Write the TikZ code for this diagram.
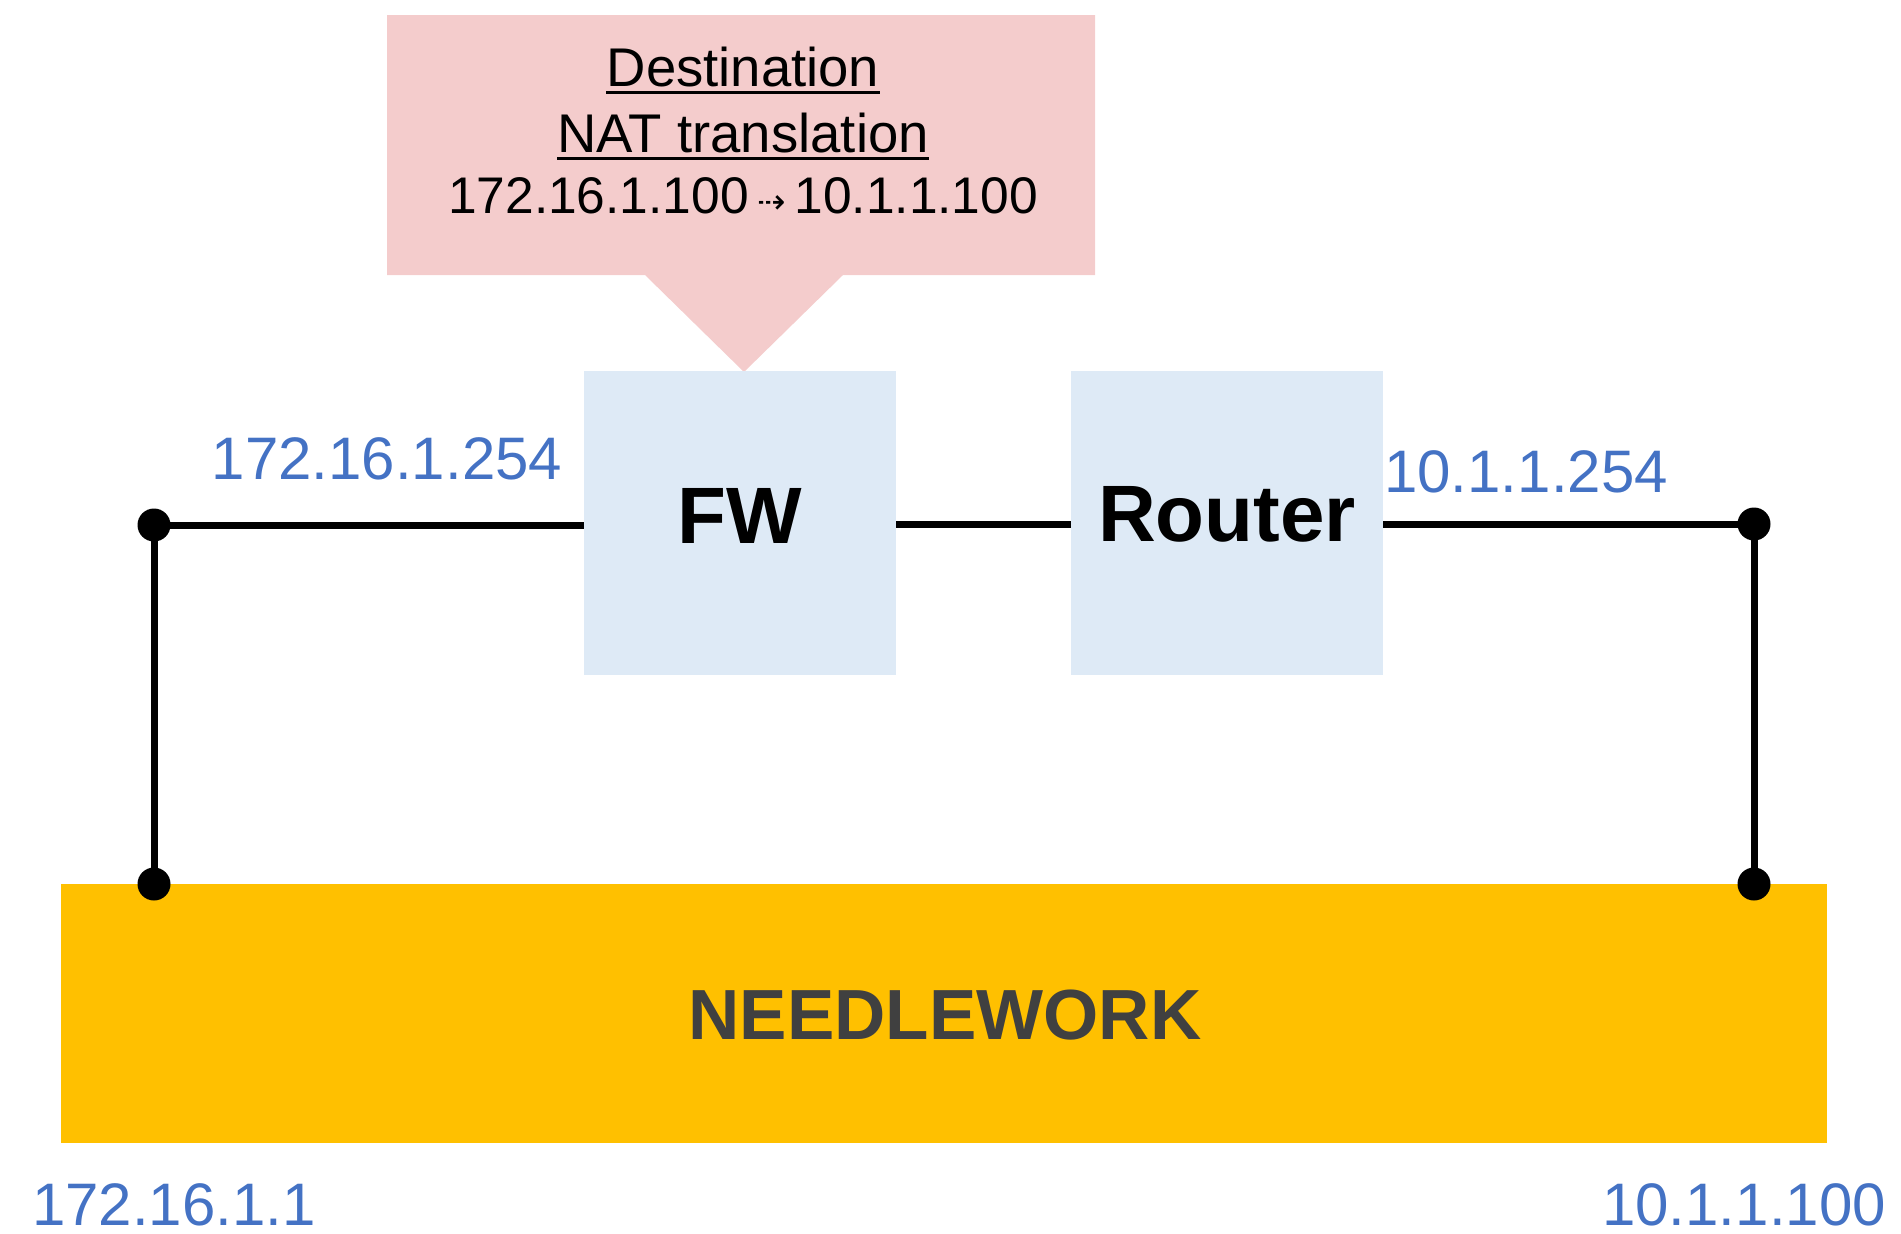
\documentclass[tikz,border=0pt]{standalone}
\usepackage{fontspec}
\setmainfont{Liberation Sans}
\newfontfamily\symfont{DejaVu Sans}
\definecolor{pinkfill}{HTML}{F4CCCC}
\definecolor{boxblue}{HTML}{DEEAF6}
\definecolor{gold}{HTML}{FFC000}
\definecolor{ipblue}{HTML}{4472C4}
\definecolor{darkgray}{HTML}{404040}
\tikzset{
  device/.style={fill=boxblue, draw=none, minimum width=312pt, minimum height=304pt, inner sep=0pt},
  devtext/.style={inner sep=0pt, anchor=base, font=\fontsize{80}{96}\selectfont\bfseries},
  iplabel/.style={text=ipblue, inner sep=0pt, anchor=base, font=\fontsize{60}{72}\selectfont},
  nattext/.style={inner sep=0pt, anchor=base, font=\fontsize{54.5}{63}\selectfont},
  dot/.style={circle, fill=black, inner sep=0pt, minimum size=33pt},
  wire/.style={line width=7pt, black},
}
\begin{document}
\begin{tikzpicture}[x=1pt,y=-1pt]
\useasboundingbox (0,0) rectangle (1901,1234);
% callout
\fill[pinkfill] (387,15) -- (1095,15) -- (1095,275) -- (843,275) -- (744,372) -- (645,275) -- (387,275) -- cycle;
\node[nattext] (l1) at (743,86) {Destination};
\node[nattext] (l2) at (743,152) {NAT translation};
\node[nattext, font=\fontsize{51.5}{63}\selectfont] (l3) at (743,213) {172.16.1.100\,{\symfont\fontsize{34}{34}\selectfont ⇢}\,10.1.1.100};
\draw[line width=3pt] ([yshift=-6pt]l1.base west) -- ([yshift=-6pt]l1.base east);
\draw[line width=3pt] ([yshift=-6pt]l2.base west) -- ([yshift=-6pt]l2.base east);
% devices
\node[device] (fw) at (740,523) {};
\node[devtext] (fwt) at (740,543) {FW};
\node[device] (router) at (1227,523) {};
\node[devtext] (routert) at (1227,541) {Router};
% needlework
\node[fill=gold, minimum width=1766pt, minimum height=259pt, inner sep=0pt] (nw) at (944,1013.5) {};
\node[inner sep=0pt, anchor=base, text=darkgray, font=\fontsize{71}{85}\selectfont\bfseries] (nwt) at (945,1039) {NEEDLEWORK};
% dots
\node[dot] (d1) at (154,525) {};
\node[dot] (d2) at (1754,524) {};
\node[dot] (d3) at (154,884) {};
\node[dot] (d4) at (1754,884) {};
% wires
\draw[wire] (d1.center) -- (fw.west |- d1.center);
\draw[wire] (fw.east |- 0,524) -- (router.west |- 0,524);
\draw[wire] (router.east |- d2.center) -- (d2.center);
\draw[wire] (d1.center) -- (d3.center);
\draw[wire] (d2.center) -- (d4.center);
% labels
\node[iplabel] (ip1) at (387,479) {172.16.1.254};
\node[iplabel] (ip2) at (1526,492) {10.1.1.254};
\node[iplabel] (ip3) at (174,1225) {172.16.1.1};
\node[iplabel] (ip4) at (1744,1225) {10.1.1.100};
\end{tikzpicture}
\end{document}
